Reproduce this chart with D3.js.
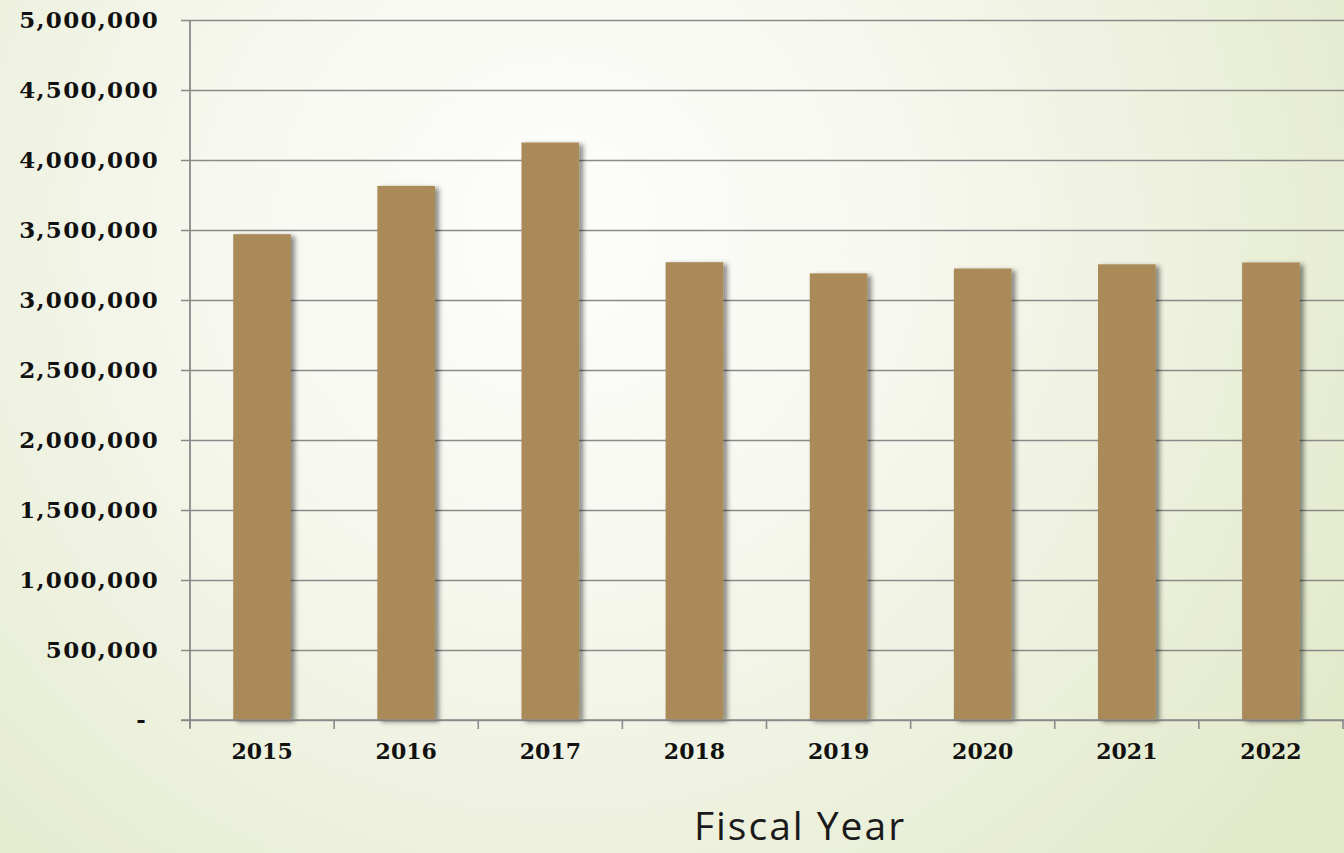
<!DOCTYPE html>
<html>
<head>
<meta charset="utf-8">
<script src="https://cdn.jsdelivr.net/npm/d3@7"></script>
<style>
  body { margin: 0; }
  svg { display: block; }
</style>
</head>
<body>
<svg id="pic" width="1344" height="853"></svg>
<script>
var years = ["2015", "2016", "2017", "2018", "2019", "2020", "2021", "2022"];
var counts = [3470000, 3815000, 4125000, 3270000, 3190000, 3225000, 3255000, 3268000];
var yTicks = [0, 500000, 1000000, 1500000, 2000000, 2500000, 3000000, 3500000, 4000000, 4500000, 5000000];

var svg = d3.select("#pic");
var W = 1344, H = 853;

// background gradient + bar shadow
var defs = svg.append("defs");
var grad = defs.append("radialGradient").attr("id", "bg")
  .attr("gradientUnits", "userSpaceOnUse")
  .attr("cx", 560).attr("cy", 230).attr("r", 950);
grad.append("stop").attr("offset", "0").attr("stop-color", "#fdfdfb");
grad.append("stop").attr("offset", "0.35").attr("stop-color", "#f7f8f0");
grad.append("stop").attr("offset", "1").attr("stop-color", "#e1e9c8");

var f = defs.append("filter").attr("id", "shadow")
  .attr("x", "-20%").attr("y", "-10%").attr("width", "150%").attr("height", "130%");
f.append("feDropShadow").attr("dx", 4).attr("dy", 2).attr("stdDeviation", 2.5)
  .attr("flood-color", "#000").attr("flood-opacity", 0.45);

svg.append("rect").attr("width", W).attr("height", H).attr("fill", "url(#bg)");

var x = d3.scaleBand().domain(years).range([190, 1343]).paddingInner(0.6).paddingOuter(0.3);
var y = d3.scaleLinear().domain([0, 5000000]).range([720, 20]);

//gridlines
var grid = svg.append("g").attr("transform", "translate(181,0)")
  .call(d3.axisLeft(y).tickValues(yTicks).tickSize(-(W - 181)).tickFormat(""));
grid.select(".domain").remove();
grid.selectAll("line").attr("stroke", "#8a8a8a").attr("stroke-width", 1.6);

//y axis
var yAxis = svg.append("g").attr("transform", "translate(190,0)")
  .call(d3.axisLeft(y).tickValues(yTicks).tickSize(0).tickPadding(31)
    .tickFormat(function(d){ return d === 0 ? "-" : d3.format(",")(d); }));
yAxis.select(".domain").remove();
yAxis.selectAll("text")
  .attr("font-family", "DejaVu Serif")
  .attr("font-weight", "bold")
  .attr("font-size", 23)
  .attr("letter-spacing", 1.3)
  .attr("fill", "#111");
yAxis.selectAll(".tick").filter(function(d){ return d === 0; }).select("text").attr("dx", -12);

svg.append("line")
  .attr("x1", 190).attr("x2", 190)
  .attr("y1", y(5000000)).attr("y2", y(0) + 8)
  .attr("stroke", "#8a8a8a").attr("stroke-width", 1.8);

//bars
svg.append("g").selectAll("rect").data(counts).enter().append("rect")
  .attr("x", function(d, i){ return x(years[i]); })
  .attr("y", function(d){ return y(d); })
  .attr("width", x.bandwidth())
  .attr("height", function(d){ return y(0) - y(d); })
  .attr("fill", "#a98a59")
  .attr("filter", "url(#shadow)");

//x axis
var xAxis = svg.append("g").attr("transform", "translate(0,720)")
  .call(d3.axisBottom(x).tickSize(0).tickPadding(23));
xAxis.select(".domain").remove();
xAxis.selectAll("text")
  .attr("font-family", "DejaVu Serif")
  .attr("font-weight", "bold")
  .attr("font-size", 22)
  .attr("fill", "#111");

var gap = (x.step() - x.bandwidth()) / 2;
var bounds = years.map(function(d){ return x(d) - gap; }).concat([x(years[years.length - 1]) + x.bandwidth() + gap]);
svg.append("line").attr("x1", 181).attr("x2", W).attr("y1", 720).attr("y2", 720)
  .attr("stroke", "#8a8a8a").attr("stroke-width", 1.6);
svg.append("g").selectAll("line").data(bounds).enter().append("line")
  .attr("x1", function(d){ return d; }).attr("x2", function(d){ return d; })
  .attr("y1", 720).attr("y2", 729)
  .attr("stroke", "#8a8a8a").attr("stroke-width", 1.6);

//title
svg.append("text")
  .attr("x", 800).attr("y", 840)
  .attr("text-anchor", "middle")
  .attr("font-family", "Open Sans")
  .attr("font-size", 39)
  .attr("letter-spacing", 2)
  .attr("fill", "#1a1a1a")
  .text("Fiscal Year");
</script>
</body>
</html>
